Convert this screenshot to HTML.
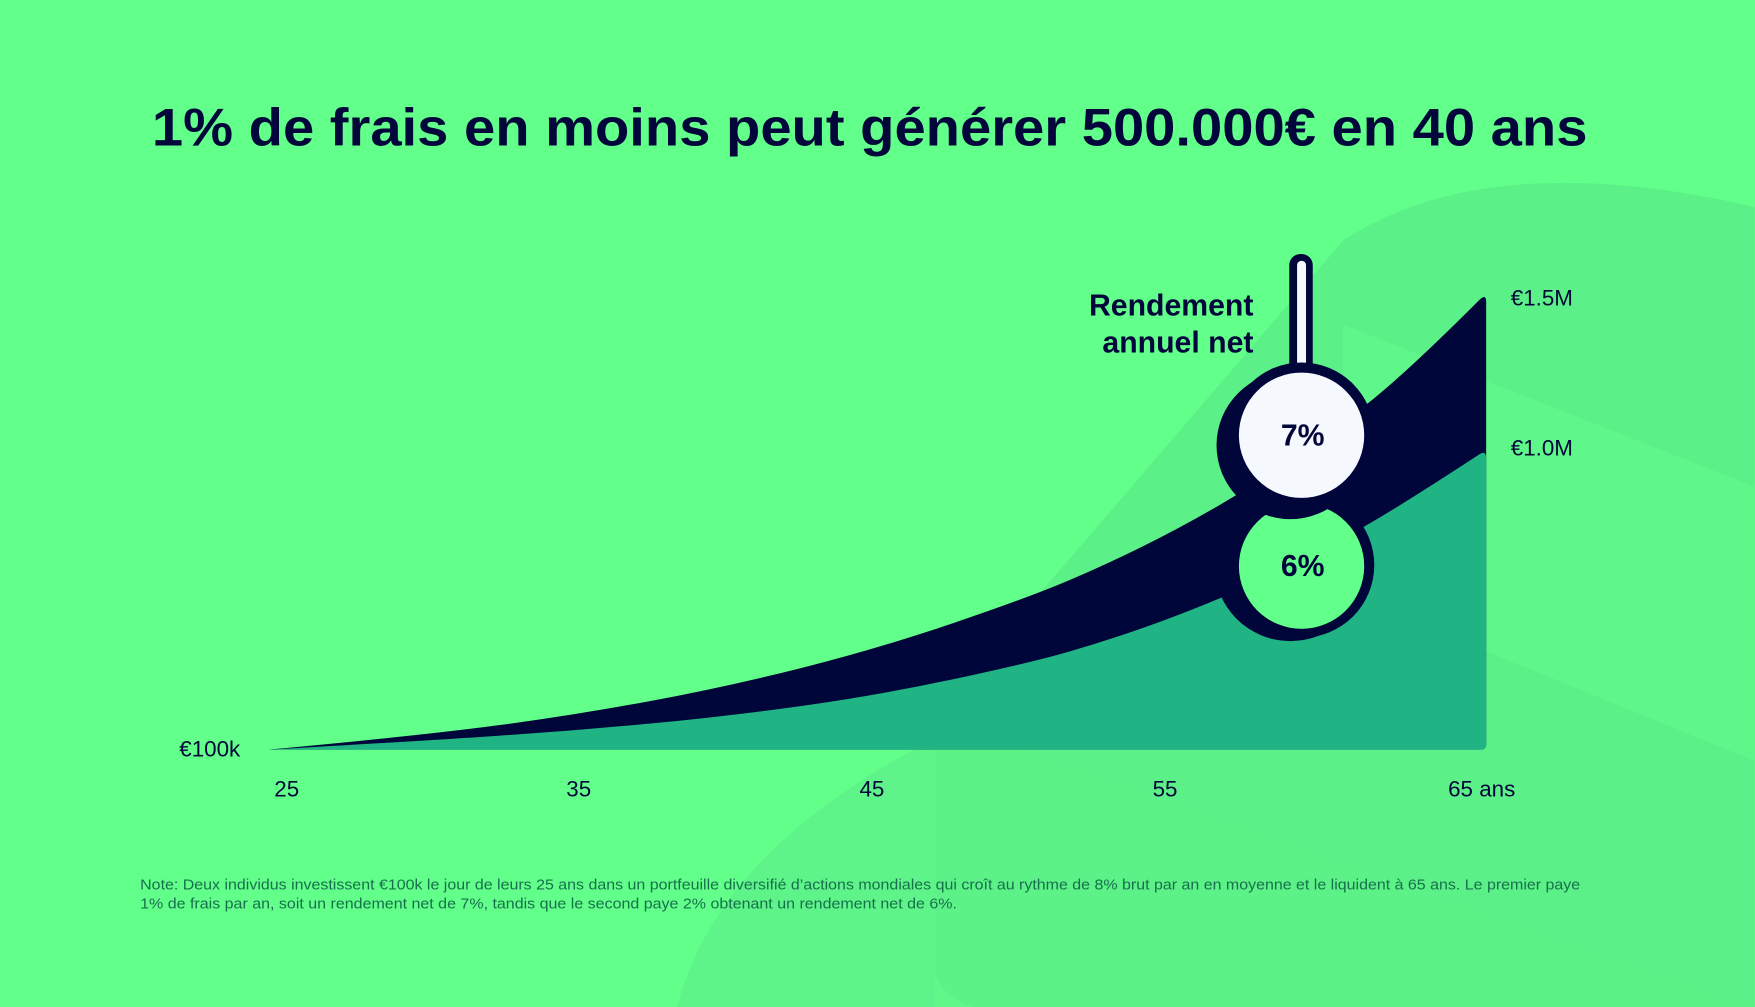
<!DOCTYPE html>
<html><head><meta charset="utf-8"><style>
html,body{margin:0;padding:0;background:#62ff8a;}
svg{display:block}
</style></head><body>
<svg width="1755" height="1007" viewBox="0 0 1568 900" xmlns="http://www.w3.org/2000/svg" font-family="Liberation Sans, sans-serif">
<rect width="1568" height="900" fill="#62ff8a"/>
<path d="M1200,215 Q1330,130 1568,185 L1568,900 L870,900 Q835,890 835,860 L835,640 Z" fill="#5cf088"/>
<path d="M1200,290 L1568,435 L1568,680 L1200,530 Z" fill="#60f98a" opacity="0.8"/>
<path d="M835,640 L1568,900 L835,900 Z" fill="#5ef489" opacity="0.6"/>
<path d="M605,900 Q640,760 835,660 L835,900 Z" fill="#5ef489"/>
<text x="777" y="130" text-anchor="middle" font-size="47" font-weight="bold" fill="#03063a" textLength="1283" lengthAdjust="spacingAndGlyphs">1% de frais en moins peut générer 500.000€ en 40 ans</text>
<path d="M240,670 Q376,657.4 444,648.35 Q512,639.3 580,626.7 Q648,614.1 716,597 Q784,579.9 852,556.75 Q920,533.6 954,519.15 Q988,504.7 1022,487.85 Q1056,471 1090,451.2 Q1124,431.4 1158,408.15 Q1192,384.9 1226,357.45 Q1260,330 1322,268 Q1328,262 1328,270 L1328,665 Q1328,670 1323,670 Z" fill="#00053a"/>
<path d="M240,670 Q376,662.2 444,657.65 Q512,653.1 580,646.75 Q648,640.4 716,630.95 Q784,621.5 852,607 Q920,592.5 954,582.7 Q988,572.9 1022,560.95 Q1056,549 1090,534.7 Q1124,520.4 1158,503.45 Q1192,486.5 1226,466.55 Q1260,446.6 1322,406 Q1328,402 1328,410 L1328,665 Q1328,670 1323,670 Z" fill="#20b383"/>
<rect x="1152" y="227" width="21" height="110" rx="10" fill="#00053a"/>
<rect x="1159" y="233" width="8" height="100" rx="4" fill="#f5f8fc"/>
<circle cx="1153" cy="505" r="68" fill="#00053a"/>
<circle cx="1163" cy="505" r="65" fill="#00053a"/>
<circle cx="1163" cy="506" r="56" fill="#62ff8a"/>
<circle cx="1153" cy="398" r="66" fill="#00053a"/>
<circle cx="1163" cy="389" r="65" fill="#00053a"/>
<circle cx="1163" cy="389" r="56" fill="#f5f8fc"/>
<text x="1164" y="398" text-anchor="middle" font-size="27" font-weight="bold" fill="#03063a">7%</text>
<text x="1164" y="515" text-anchor="middle" font-size="27" font-weight="bold" fill="#03063a">6%</text>
<text x="1120" y="282" text-anchor="end" font-size="27" font-weight="bold" fill="#03063a">Rendement</text>
<text x="1120" y="315" text-anchor="end" font-size="27" font-weight="bold" fill="#03063a">annuel net</text>
<g font-size="20" fill="#03063a">
<text x="1350" y="273">€1.5M</text>
<text x="1350" y="407">€1.0M</text>
<text x="160" y="676">€100k</text>
<text x="256" y="712" text-anchor="middle">25</text>
<text x="517" y="712" text-anchor="middle">35</text>
<text x="779" y="712" text-anchor="middle">45</text>
<text x="1041" y="712" text-anchor="middle">55</text>
<text x="1324" y="712" text-anchor="middle">65 ans</text>
</g>
<g font-size="13.5" fill="#17704c">
<text x="125" y="795" textLength="1287" lengthAdjust="spacingAndGlyphs">Note: Deux individus investissent €100k le jour de leurs 25 ans dans un portfeuille diversifié d’actions mondiales qui croît au rythme de 8% brut par an en moyenne et le liquident à 65 ans. Le premier paye</text>
<text x="125" y="812" textLength="730" lengthAdjust="spacingAndGlyphs">1% de frais par an, soit un rendement net de 7%, tandis que le second paye 2% obtenant un rendement net de 6%.</text>
</g>
</svg>
</body></html>
